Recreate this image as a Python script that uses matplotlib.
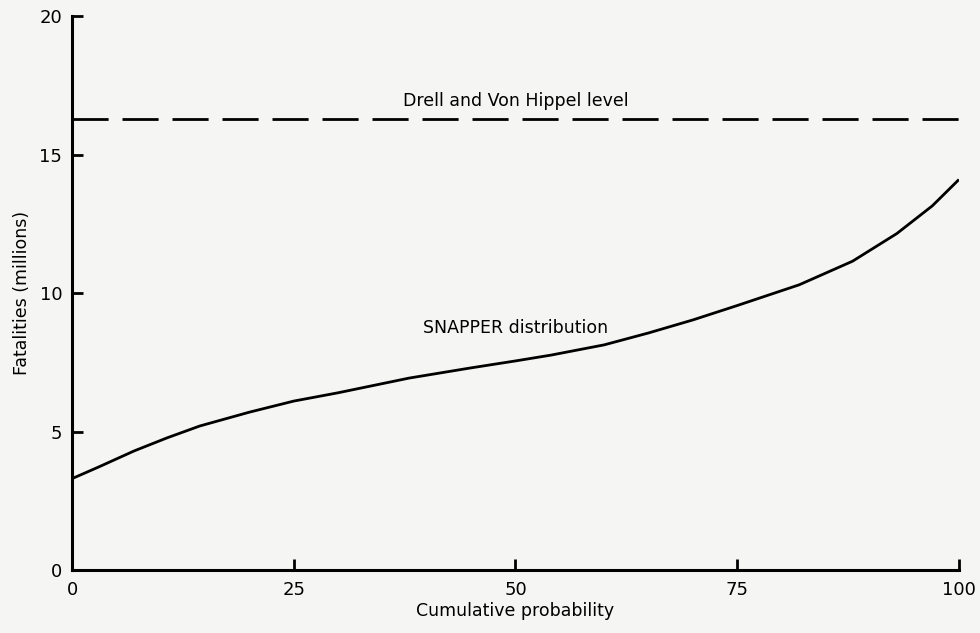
import matplotlib
matplotlib.use("Agg")
import matplotlib.pyplot as plt

# SNAPPER distribution
prob = [0, 3, 7, 10.7, 14.4, 20, 25, 30, 38, 45, 50, 54, 60, 65, 70, 75, 82, 88, 93, 97, 100]
fatal = [3.3, 3.72, 4.3, 4.77, 5.2, 5.7, 6.1, 6.4, 6.93, 7.3, 7.55, 7.76, 8.13, 8.56, 9.03, 9.55, 10.3, 11.15, 12.15, 13.15, 14.1]
drell_level = 16.3

x_ticks = [0, 25, 50, 75, 100]
y_ticks = [0, 5, 10, 15, 20]

plt.rcParams["font.family"] = ["DejaVu Sans"]
bg = "#f5f5f4"

fig = plt.figure(figsize=(9.8, 6.33), dpi=100, facecolor=bg)
ax = fig.add_axes([0.0735, 0.0995, 0.905, 0.875], facecolor=bg)

ax.plot(prob, fatal, color="black", lw=2.0, solid_capstyle="butt")
ax.plot([0, 100], [drell_level, drell_level], color="black", lw=2.0,
        dashes=(13, 5))

ax.text(50, 16.95, "Drell and Von Hippel level", ha="center", va="center",
        fontsize=12.5)
ax.text(50, 8.75, "SNAPPER distribution", ha="center", va="center",
        fontsize=12.5)

ax.set_xlim(0, 100)
ax.set_ylim(0, 20)
ax.set_xticks(x_ticks)
ax.set_yticks(y_ticks)
for s in ("top", "right"):
    ax.spines[s].set_visible(False)
for s in ("left", "bottom"):
    ax.spines[s].set_linewidth(2.2)
ax.tick_params(direction="in", length=8, width=2, labelsize=13)
ax.tick_params(axis="x", pad=8)
ax.tick_params(axis="y", pad=7)

ax.set_xlabel("Cumulative probability", fontsize=12.5, labelpad=2)
ax.set_ylabel("Fatalities (millions)", fontsize=12.5, labelpad=6)

fig.savefig("out.png", dpi=100, facecolor=bg)
